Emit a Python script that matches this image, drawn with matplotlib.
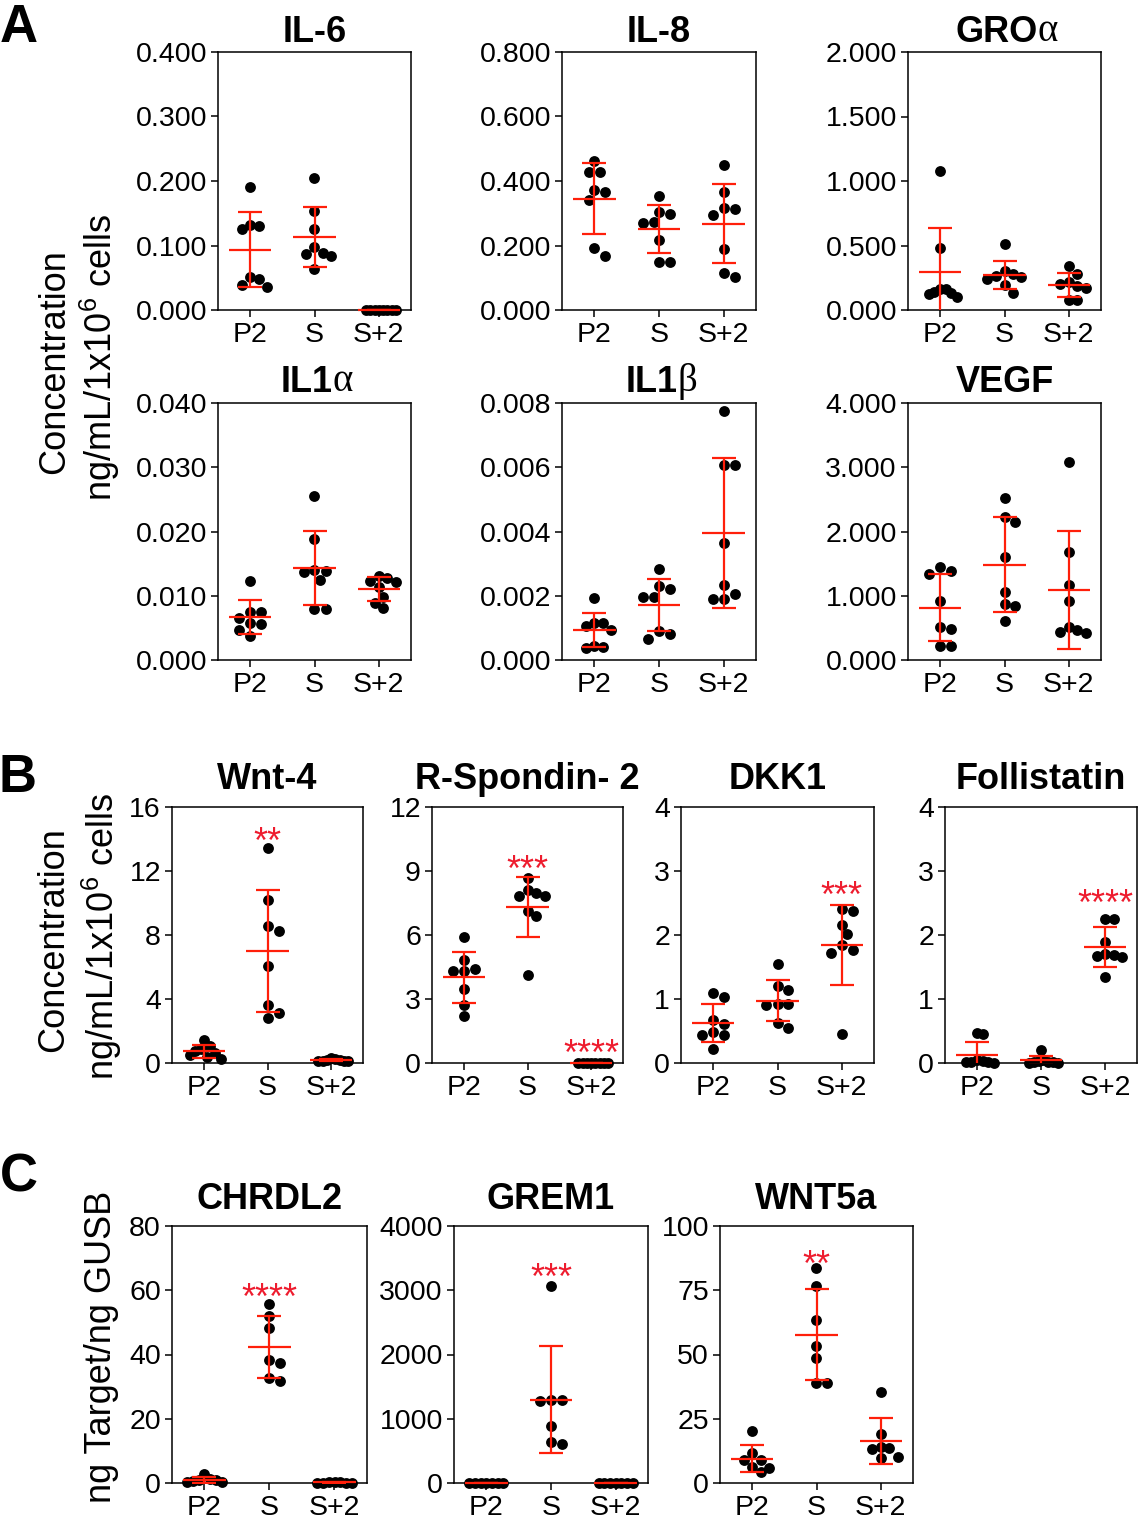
import numpy as np
import matplotlib
matplotlib.use('Agg')
import matplotlib.pyplot as plt
from matplotlib.ticker import FormatStrFormatter

plt.rcParams['font.family'] = ['Liberation Sans', 'DejaVu Sans']

W, H = 1141, 1529
cats = ['P2', 'S', 'S+2']

# values: [P2, S, S+2] for each analyte
il6 = [[0.190, 0.131, 0.125, 0.132, 0.051, 0.048, 0.035, 0.038],
       [0.204, 0.154, 0.126, 0.098, 0.087, 0.089, 0.084, 0.063],
       [0, 0, 0, 0, 0, 0, 0, 0]]
il8 = [[0.462, 0.427, 0.429, 0.373, 0.367, 0.342, 0.191, 0.166],
       [0.353, 0.274, 0.303, 0.298, 0.270, 0.218, 0.148, 0.150],
       [0.450, 0.365, 0.316, 0.314, 0.295, 0.189, 0.101, 0.115]]
groa = [[1.074, 0.484, 0.124, 0.165, 0.160, 0.142, 0.103, 0.130],
        [0.512, 0.300, 0.255, 0.280, 0.265, 0.240, 0.132, 0.190],
        [0.344, 0.280, 0.184, 0.215, 0.200, 0.170, 0.078, 0.080]]
il1a = [[0.0123, 0.0074, 0.0075, 0.0065, 0.0057, 0.0056, 0.0047, 0.0037],
        [0.0255, 0.0188, 0.0137, 0.0139, 0.0124, 0.0079, 0.0079, 0.0140],
        [0.0131, 0.0127, 0.0122, 0.0123, 0.0114, 0.0098, 0.0089, 0.0081]]
il1b = [[0.00192, 0.00116, 0.00114, 0.00093, 0.00106, 0.00041, 0.00044, 0.00036],
        [0.00283, 0.00230, 0.00220, 0.00197, 0.00197, 0.00091, 0.00081, 0.00064],
        [0.00775, 0.00608, 0.00606, 0.00364, 0.00233, 0.00207, 0.00189, 0.00189]]
vegf = [[1.446, 1.332, 1.389, 0.922, 0.487, 0.508, 0.223, 0.223],
        [2.528, 2.233, 2.150, 1.601, 1.062, 0.865, 0.834, 0.611],
        [3.078, 1.684, 1.171, 0.922, 0.513, 0.420, 0.440, 0.466]]

wnt4 = [[1.46, 1.04, 0.85, 0.75, 0.65, 0.35, 0.25, 0.50],
        [13.42, 10.17, 8.54, 8.27, 6.04, 3.60, 3.13, 2.79],
        [0.30, 0.25, 0.20, 0.20, 0.15, 0.15, 0.10, 0.10]]
rspo2 = [[5.91, 4.41, 4.30, 4.81, 4.30, 3.47, 2.73, 2.19],
         [8.67, 7.97, 8.09, 7.81, 7.81, 7.11, 6.88, 4.14],
         [0.02, 0.02, 0.02, 0.02, 0.02, 0.02, 0.02, 0.02]]
dkk1 = [[1.094, 1.030, 0.667, 0.615, 0.479, 0.443, 0.443, 0.219],
        [1.552, 1.198, 1.135, 0.927, 0.927, 0.901, 0.625, 0.547],
        [2.380, 2.406, 2.161, 2.016, 1.839, 1.719, 1.760, 0.453]]
fst = [[0.47, 0.45, 0.05, 0.03, 0.02, 0.01, 0.01, 0.0],
       [0.20, 0.05, 0.03, 0.02, 0.01, 0.01, 0.0, 0.0],
       [2.255, 2.255, 1.890, 1.708, 1.677, 1.656, 1.693, 1.339]]

chrdl2 = [[2.8, 1.4, 1.0, 0.8, 0.5, 0.3, 0.2],
          [55.75, 52.1, 48.2, 37.4, 38.3, 31.6, 32.6],
          [0.3, 0.2, 0.2, 0.1, 0.1, 0.1, 0.1]]
grem1 = [[0, 0, 0, 0, 0, 0, 0],
         [3065, 1299, 1278, 1299, 893, 603, 639],
         [0, 0, 0, 0, 0, 0, 0]]
wnt5a = [[20.3, 8.8, 9.1, 11.7, 6.2, 6.0, 4.3],
         [83.5, 76.7, 63.6, 53.4, 48.6, 38.9, 38.9],
         [35.6, 19.0, 14.2, 13.6, 13.2, 9.7, 10.1]]

# significance marks: (group index, label, height)
wnt4_stars = [(1, '**', 14.4)]
rspo2_stars = [(1, '***', 9.5), (2, '****', 0.9)]
dkk1_stars = [(2, '***', 2.76)]
fst_stars = [(2, '****', 2.64)]
chrdl2_stars = [(1, '****', 60.7)]
grem1_stars = [(1, '***', 3340)]
wnt5a_stars = [(1, '**', 88.7)]

red = '#ff1f0a'
star_red = '#ee1c2e'

fig = plt.figure(figsize=(W / 100, H / 100), dpi=100)


def box(l, t, r, b):
    return fig.add_axes([l / W, 1 - b / H, (r - l) / W, (b - t) / H])


def swarm(ax, i, vals, d=11.0, lim=17.0):
    # spread equal-ish values sideways, like a column scatter
    pts = ax.transData.transform(np.column_stack([np.full(len(vals), float(i)), vals]))
    ys = pts[:, 1]
    offs = np.zeros(len(vals))
    placed = []
    cand = [0.0]
    for k in range(1, 40):
        cand += [k * d / 2, -k * d / 2]
    for k in np.argsort(-ys, kind='stable'):
        for c in cand:
            if all((c - px) ** 2 + (ys[k] - py) ** 2 >= (0.98 * d) ** 2 for px, py in placed):
                break
        offs[k] = c
        placed.append((c, ys[k]))
    m = np.abs(offs).max()
    if m > lim:
        offs *= lim / m
    return ax.transData.inverted().transform(np.column_stack([pts[:, 0] + offs, ys]))[:, 0]


def panel(ax, groups, title, top, step, fmt, pad, greek=None, stars=()):
    ax.set_xlim(-0.5, 2.5)
    ax.set_ylim(0, top)
    ax.set_yticks(np.arange(0, top + step / 2, step))
    ax.yaxis.set_major_formatter(FormatStrFormatter(fmt))
    ax.set_xticks(range(3))
    ax.set_xticklabels(cats)
    for s in ax.spines.values():
        s.set_linewidth(1.1)
    ax.tick_params(axis='y', direction='out', length=5, width=1.1, pad=3, labelsize=20.5)
    ax.tick_params(axis='x', direction='out', length=5, width=1.1, pad=3.5, labelsize=20.5)
    for i, g in enumerate(groups):
        v = np.array(g, dtype=float)
        xs = swarm(ax, i, v)
        ax.scatter(xs, v, s=61, color='black', linewidths=0, zorder=3, clip_on=False)
        m = v.mean()
        sd = v.std(ddof=1)
        ax.errorbar(i, m, yerr=sd, fmt='none', ecolor=red, elinewidth=1.6,
                    capsize=8.5, capthick=1.6, zorder=4)
        ax.hlines(m, i - 0.33, i + 0.33, color=red, lw=1.6, zorder=4, clip_on=False)
    for i, lab, y in stars:
        ax.annotate(lab, xy=(i, y), xytext=(0, -15), textcoords='offset points',
                    ha='center', va='baseline', color=star_red, fontsize=26)
    xc = 0.46 if greek else 0.5
    t = ax.annotate(title, xy=(xc, 1), xycoords='axes fraction', xytext=(0, pad),
                    textcoords='offset points', ha='center', va='baseline',
                    fontsize=26, fontweight='bold')
    if greek:
        ax.annotate(greek, xy=(1, 0), xycoords=t, ha='left', va='bottom',
                    fontsize=28, family=['Liberation Serif', 'DejaVu Serif'])


# Panel A
colsA = [(218, 411), (562, 756), (908, 1101)]
rowA1 = (52, 310)
rowA2 = (403, 660)
panel(box(colsA[0][0], rowA1[0], colsA[0][1], rowA1[1]), il6, 'IL-6', 0.4, 0.1, '%.3f', 7)
panel(box(colsA[1][0], rowA1[0], colsA[1][1], rowA1[1]), il8, 'IL-8', 0.8, 0.2, '%.3f', 7)
panel(box(colsA[2][0], rowA1[0], colsA[2][1], rowA1[1]), groa, 'GRO', 2.0, 0.5, '%.3f', 7, greek='α')
panel(box(colsA[0][0], rowA2[0], colsA[0][1], rowA2[1]), il1a, 'IL1', 0.04, 0.01, '%.3f', 8, greek='α')
panel(box(colsA[1][0], rowA2[0], colsA[1][1], rowA2[1]), il1b, 'IL1', 0.008, 0.002, '%.3f', 8, greek='β')
panel(box(colsA[2][0], rowA2[0], colsA[2][1], rowA2[1]), vegf, 'VEGF', 4.0, 1.0, '%.3f', 8)

# Panel B
rowB = (807, 1063)
panel(box(172, rowB[0], 363, rowB[1]), wnt4, 'Wnt-4', 16, 4, '%d', 13, stars=wnt4_stars)
panel(box(432, rowB[0], 623, rowB[1]), rspo2, 'R-Spondin- 2', 12, 3, '%d', 13, stars=rspo2_stars)
panel(box(681, rowB[0], 874, rowB[1]), dkk1, 'DKK1', 4, 1, '%d', 13, stars=dkk1_stars)
panel(box(945, rowB[0], 1137, rowB[1]), fst, 'Follistatin', 4, 1, '%d', 13, stars=fst_stars)

# Panel C
rowC = (1226, 1483)
panel(box(172, rowC[0], 367, rowC[1]), chrdl2, 'CHRDL2', 80, 20, '%d', 12, stars=chrdl2_stars)
panel(box(454, rowC[0], 648, rowC[1]), grem1, 'GREM1', 4000, 1000, '%d', 12, stars=grem1_stars)
panel(box(720, rowC[0], 913, rowC[1]), wnt5a, 'WNT5a', 100, 25, '%d', 12, stars=wnt5a_stars)

# axis titles
ylab2 = r'ng/mL/1x10$^{\mathregular{6}}$ cells'
fig.text(55 / W, 1 - 362 / H, 'Concentration', rotation=90, ha='center', va='center', fontsize=26)
fig.text(100 / W, 1 - 357 / H, ylab2, rotation=90, ha='center', va='center', fontsize=26)
fig.text(54 / W, 1 - 940 / H, 'Concentration', rotation=90, ha='center', va='center', fontsize=26)
fig.text(102 / W, 1 - 936 / H, ylab2, rotation=90, ha='center', va='center', fontsize=26)
fig.text(102 / W, 1 - 1347 / H, 'ng Target/ng GUSB', rotation=90, ha='center', va='center', fontsize=26)

# panel letters
fig.text(19 / W, 1 - 28 / H, 'A', ha='center', va='center', fontsize=38, fontweight='bold')
fig.text(18 / W, 1 - 778 / H, 'B', ha='center', va='center', fontsize=38, fontweight='bold')
fig.text(19 / W, 1 - 1178 / H, 'C', ha='center', va='center', fontsize=38, fontweight='bold')

fig.savefig('out.png', dpi=100)
